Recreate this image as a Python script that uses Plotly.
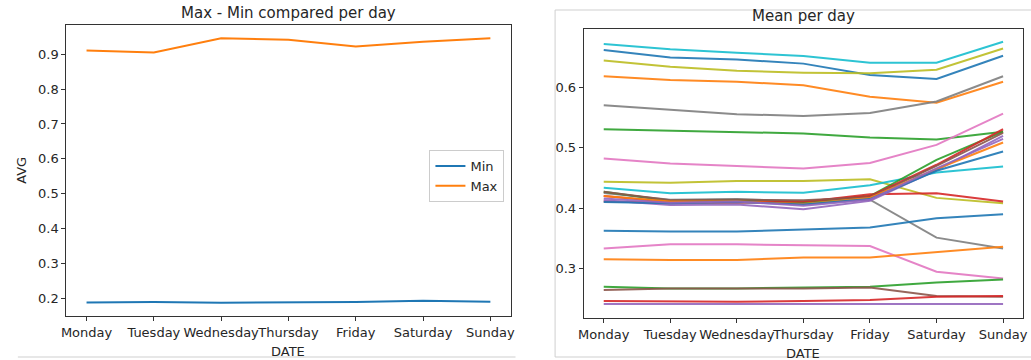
import plotly.graph_objects as go

days = ["Monday", "Tuesday", "Wednesday", "Thursday", "Friday", "Saturday", "Sunday"]

# Left chart: Max - Min compared per day
min_avg = [0.1875, 0.189, 0.187, 0.188, 0.189, 0.193, 0.190]
max_avg = [0.911, 0.905, 0.946, 0.942, 0.922, 0.936, 0.946]

# Right chart: Mean per day (one list per line)
mean_01 = [0.6725, 0.664, 0.658, 0.6526, 0.6415, 0.6415, 0.6764]
mean_02 = [0.6626, 0.650, 0.647, 0.640, 0.621, 0.6144, 0.653]
mean_03 = [0.645, 0.635, 0.628, 0.625, 0.624, 0.630, 0.665]
mean_04 = [0.619, 0.613, 0.610, 0.604, 0.585, 0.575, 0.610]
mean_05 = [0.571, 0.564, 0.556, 0.553, 0.558, 0.577, 0.619]
mean_06 = [0.531, 0.5286, 0.527, 0.524, 0.5175, 0.514, 0.527]
mean_07 = [0.4826, 0.474, 0.470, 0.466, 0.475, 0.505, 0.557]
mean_08 = [0.444, 0.442, 0.445, 0.445, 0.448, 0.417, 0.408]
mean_09 = [0.434, 0.4245, 0.427, 0.4256, 0.438, 0.459, 0.469]
mean_10 = [0.411, 0.409, 0.409, 0.410, 0.423, 0.4245, 0.411]
mean_11 = [0.425, 0.414, 0.415, 0.411, 0.414, 0.351, 0.333]
mean_12 = [0.427, 0.412, 0.413, 0.409, 0.420, 0.480, 0.527]
mean_13 = [0.420, 0.410, 0.410, 0.411, 0.420, 0.472, 0.531]
mean_14 = [0.427, 0.413, 0.414, 0.413, 0.418, 0.470, 0.525]
mean_15 = [0.413, 0.405, 0.406, 0.398, 0.412, 0.463, 0.520]
mean_16 = [0.420, 0.411, 0.411, 0.407, 0.417, 0.465, 0.509]
mean_17 = [0.410, 0.408, 0.410, 0.406, 0.415, 0.462, 0.494]
mean_18 = [0.416, 0.409, 0.411, 0.404, 0.414, 0.466, 0.515]
mean_19 = [0.3625, 0.361, 0.361, 0.3647, 0.368, 0.383, 0.390]
mean_20 = [0.333, 0.340, 0.3398, 0.3387, 0.337, 0.2944, 0.283]
mean_21 = [0.315, 0.3137, 0.3137, 0.318, 0.318, 0.3276, 0.336]
mean_22 = [0.2694, 0.2667, 0.2667, 0.2683, 0.2694, 0.2766, 0.2816]
mean_23 = [0.264, 0.2667, 0.2667, 0.2667, 0.2683, 0.254, 0.2528]
mean_24 = [0.2456, 0.2445, 0.2445, 0.2456, 0.2473, 0.2528, 0.254]
mean_25 = [0.2406, 0.2406, 0.2406, 0.2406, 0.2406, 0.2406, 0.2406]

mean_series = [mean_01, mean_02, mean_03, mean_04, mean_05, mean_06, mean_07, mean_08,
               mean_09, mean_10, mean_11, mean_12, mean_13, mean_14, mean_15, mean_16,
               mean_17, mean_18, mean_19, mean_20, mean_21, mean_22, mean_23, mean_24,
               mean_25]

TAB = {"blue": "#1f77b4", "orange": "#ff7f0e", "green": "#2ca02c", "red": "#d62728",
       "purple": "#9467bd", "brown": "#8c564b", "pink": "#e377c2", "gray": "#7f7f7f",
       "olive": "#bcbd22", "cyan": "#17becf"}
mean_colors = ["cyan", "blue", "olive", "orange", "gray", "green", "pink", "olive",
               "cyan", "red", "gray", "green", "red", "brown", "purple", "orange",
               "blue", "purple", "blue", "pink", "orange", "green", "brown", "red",
               "purple"]

FONT = "DejaVu Sans"
TXT = "#262626"
W, H = 1031, 360

fig = go.Figure()
fig.add_trace(go.Scatter(x=days, y=min_avg, mode="lines", name="Min",
                         line=dict(color=TAB["blue"], width=2), xaxis="x", yaxis="y"))
fig.add_trace(go.Scatter(x=days, y=max_avg, mode="lines", name="Max",
                         line=dict(color=TAB["orange"], width=2), xaxis="x", yaxis="y"))
for vals, c in zip(mean_series, mean_colors):
    fig.add_trace(go.Scatter(x=days, y=vals, mode="lines", showlegend=False,
                             line=dict(color=TAB[c], width=2), opacity=0.9,
                             xaxis="x2", yaxis="y2"))

def px_x(p):
    return p / W

def px_y(p):
    return 1 - p / H

axis_common = dict(showline=True, linecolor="#333333", linewidth=1, mirror=True,
                   ticks="outside", ticklen=4, tickcolor="#333333", showgrid=False,
                   zeroline=False, tickfont=dict(family=FONT, size=13, color=TXT))

def label(text, x, y, size=13, angle=0):
    return dict(text=text, x=px_x(x), y=px_y(y), xref="paper", yref="paper",
                xanchor="center", yanchor="middle", showarrow=False, textangle=angle,
                font=dict(family=FONT, size=size, color=TXT))

fig.update_layout(
    width=W, height=H, autosize=False,
    margin=dict(l=0, r=0, t=0, b=0),
    paper_bgcolor="white", plot_bgcolor="white",
    font=dict(family=FONT, size=13, color=TXT),
    xaxis=dict(domain=[px_x(61), px_x(510)], range=[-0.3, 6.3], type="category",
               tickangle=0, anchor="y", **axis_common),
    yaxis=dict(domain=[px_y(316), px_y(25)], range=[0.149, 0.984],
               tickvals=[0.2, 0.3, 0.4, 0.5, 0.6, 0.7, 0.8, 0.9], tickformat=".1f",
               anchor="x", **axis_common),
    xaxis2=dict(domain=[px_x(584), px_x(1028)], range=[-0.3, 6.3], type="category",
                tickangle=0, anchor="y2", **axis_common),
    yaxis2=dict(domain=[px_y(318), px_y(29)], range=[0.2175, 0.6975],
                tickvals=[0.3, 0.4, 0.5, 0.6], tickformat=".1f",
                anchor="x2", **axis_common),
    legend=dict(x=px_x(428), y=px_y(150), xanchor="left", yanchor="top",
                bgcolor="rgba(255,255,255,0.8)", bordercolor="#cccccc", borderwidth=1,
                font=dict(family=FONT, size=13, color=TXT), itemwidth=30),
    showlegend=True,
    annotations=[
        label("Max - Min compared per day", 285.5, 13, size=15),
        label("Mean per day", 806, 16, size=15),
        label("AVG", 15, 170, angle=-90),
        label("DATE", 285.5, 351),
        label("DATE", 806, 353),
    ],
    shapes=[
        dict(type="line", xref="paper", yref="paper", x0=px_x(12), x1=px_x(515),
             y0=px_y(357), y1=px_y(357), line=dict(color="#cfcfcf", width=1)),
        dict(type="rect", xref="paper", yref="paper", x0=px_x(555), x1=px_x(1040),
             y0=px_y(357), y1=px_y(10), line=dict(color="#cfcfcf", width=1),
             layer="above"),
    ],
)

fig.write_html("out.html")
